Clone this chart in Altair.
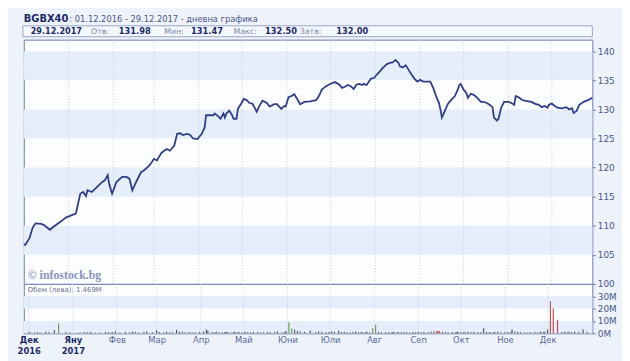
import altair as alt
import pandas as pd

# ---------------- data ----------------
dates = [
    "2016-12-01", "2016-12-02", "2016-12-05", "2016-12-07", "2016-12-09", "2016-12-13", "2016-12-15", "2016-12-19", "2016-12-22", "2016-12-27",
    "2016-12-30", "2017-01-04", "2017-01-06", "2017-01-09", "2017-01-11", "2017-01-13", "2017-01-14", "2017-01-17", "2017-01-20", "2017-01-24",
    "2017-01-26", "2017-01-28", "2017-01-29", "2017-01-31", "2017-02-03", "2017-02-07", "2017-02-10", "2017-02-12", "2017-02-14", "2017-02-16",
    "2017-02-20", "2017-02-22", "2017-02-26", "2017-03-01", "2017-03-03", "2017-03-06", "2017-03-08", "2017-03-10", "2017-03-12", "2017-03-15",
    "2017-03-17", "2017-03-19", "2017-03-21", "2017-03-24", "2017-03-26", "2017-03-28", "2017-03-31", "2017-04-03", "2017-04-05", "2017-04-06",
    "2017-04-09", "2017-04-11", "2017-04-12", "2017-04-14", "2017-04-16", "2017-04-18", "2017-04-19", "2017-04-20", "2017-04-22", "2017-04-24",
    "2017-04-25", "2017-04-27", "2017-04-28", "2017-04-30", "2017-05-02", "2017-05-04", "2017-05-06", "2017-05-08", "2017-05-11", "2017-05-13",
    "2017-05-15", "2017-05-18", "2017-05-20", "2017-05-23", "2017-05-25", "2017-05-28", "2017-05-30", "2017-05-31", "2017-06-02", "2017-06-04",
    "2017-06-06", "2017-06-08", "2017-06-10", "2017-06-13", "2017-06-17", "2017-06-21", "2017-06-23", "2017-06-25", "2017-06-28", "2017-06-30",
    "2017-07-02", "2017-07-04", "2017-07-07", "2017-07-09", "2017-07-11", "2017-07-13", "2017-07-15", "2017-07-17", "2017-07-19", "2017-07-21",
    "2017-07-23", "2017-07-24", "2017-07-26", "2017-07-27", "2017-07-29", "2017-07-31", "2017-08-02", "2017-08-04", "2017-08-06", "2017-08-09",
    "2017-08-11", "2017-08-13", "2017-08-14", "2017-08-15", "2017-08-17", "2017-08-18", "2017-08-20", "2017-08-22", "2017-08-24", "2017-08-26",
    "2017-08-28", "2017-08-30", "2017-09-01", "2017-09-03", "2017-09-05", "2017-09-08", "2017-09-10", "2017-09-12", "2017-09-14", "2017-09-15",
    "2017-09-16", "2017-09-18", "2017-09-20", "2017-09-22", "2017-09-25", "2017-09-27", "2017-09-28", "2017-09-29", "2017-10-01", "2017-10-03",
    "2017-10-04", "2017-10-06", "2017-10-08", "2017-10-10", "2017-10-13", "2017-10-15", "2017-10-17", "2017-10-19", "2017-10-21", "2017-10-22",
    "2017-10-24", "2017-10-25", "2017-10-27", "2017-10-29", "2017-11-01", "2017-11-03", "2017-11-05", "2017-11-06", "2017-11-08", "2017-11-10",
    "2017-11-12", "2017-11-15", "2017-11-17", "2017-11-19", "2017-11-22", "2017-11-24", "2017-11-26", "2017-11-28", "2017-11-29", "2017-12-01",
    "2017-12-03", "2017-12-05", "2017-12-08", "2017-12-11", "2017-12-13", "2017-12-15", "2017-12-16", "2017-12-18", "2017-12-20", "2017-12-23",
    "2017-12-26", "2017-12-29",
]
close = [
    106.8, 106.7, 107.9, 109.6, 110.4, 110.3, 110.1, 109.3, 109.9, 110.8,
    111.4, 111.9, 112.1, 115.5, 115.8, 115.1, 116.1, 115.8, 116.5, 117.5,
    117.8, 118.7, 117.2, 115.5, 117.5, 118.4, 118.4, 118.1, 116.1, 117.2,
    119.2, 119.5, 120.4, 121.5, 121.2, 122.5, 122.9, 123.2, 122.9, 123.8,
    125.8, 125.9, 125.6, 125.8, 125.6, 125.0, 124.9, 125.8, 126.9, 129.0,
    129.0, 129.0, 129.3, 128.9, 128.4, 129.3, 128.6, 129.3, 129.8, 129.0,
    128.4, 128.4, 130.1, 130.9, 131.8, 131.6, 131.1, 131.0, 129.6, 130.7,
    131.5, 131.1, 130.5, 130.9, 130.9, 130.1, 130.6, 130.5, 132.1, 132.3,
    132.6, 131.8, 130.9, 131.3, 131.4, 131.6, 132.3, 133.4, 134.0, 134.3,
    134.5, 134.7, 134.3, 133.7, 133.9, 134.2, 134.0, 133.5, 134.3, 134.4,
    134.2, 134.4, 134.2, 134.6, 135.3, 135.4, 136.0, 136.5, 137.1, 137.8,
    138.0, 138.1, 138.3, 138.5, 138.0, 137.4, 137.2, 137.6, 136.8, 136.0,
    135.3, 134.8, 135.1, 134.8, 134.8, 134.8, 133.7, 132.3, 131.1, 130.0,
    128.6, 129.7, 130.9, 131.5, 132.3, 133.4, 134.2, 134.4, 133.4, 132.8,
    132.0, 132.7, 132.5, 132.1, 131.3, 131.3, 131.1, 130.8, 130.4, 128.6,
    128.1, 128.3, 130.3, 131.3, 131.3, 131.1, 130.8, 132.3, 132.1, 131.7,
    131.5, 131.4, 131.3, 131.0, 130.8, 130.4, 130.6, 130.3, 130.8, 131.0,
    130.6, 130.3, 130.2, 130.4, 130.0, 130.2, 129.4, 129.7, 130.8, 131.3,
    131.6, 132.0,
]
# turnover in millions of leva
volume = [
    0.6, 0.8, 0.5, 1.0, 0.7, 1.2, 0.9, 2.5, 8.0, 1.0,
    0.6, 0.5, 0.7, 1.0, 0.8, 0.6, 0.9, 0.5, 0.7, 1.1,
    0.8, 0.6, 0.9, 1.5, 0.7, 1.2, 0.8, 1.4, 1.0, 0.6,
    1.1, 1.6, 0.8, 2.5, 1.0, 0.9, 1.3, 0.7, 0.8, 2.8,
    1.2, 1.2, 0.9, 1.0, 0.7, 0.8, 1.0, 1.4, 3.0, 2.0,
    1.0, 0.8, 1.2, 0.7, 0.9, 1.1, 0.8, 1.0, 0.7, 0.9,
    1.2, 0.8, 1.0, 0.7, 1.3, 0.9, 0.8, 1.1, 1.0, 0.7,
    0.9, 1.2, 0.8, 1.0, 1.5, 0.7, 1.0, 1.8, 9.0, 4.0,
    3.0, 2.0, 1.5, 1.2, 2.0, 1.0, 1.5, 1.2, 0.8, 1.0,
    1.6, 1.2, 2.0, 1.0, 1.3, 0.9, 0.7, 1.0, 1.4, 0.8,
    1.0, 0.7, 0.9, 1.2, 0.8, 4.0, 7.0, 1.2, 0.9, 1.0,
    0.8, 0.7, 1.0, 0.9, 0.7, 1.0, 0.8, 1.1, 0.9, 0.7,
    1.0, 0.8, 1.2, 0.9, 1.0, 0.8, 1.3, 1.5, 2.0, 1.8,
    1.6, 1.2, 1.0, 0.9, 1.1, 0.8, 1.0, 1.3, 0.9, 1.0,
    0.8, 1.2, 0.9, 1.0, 0.8, 0.9, 4.0, 1.2, 0.9, 0.7,
    1.0, 0.8, 1.2, 0.7, 0.9, 1.0, 0.8, 3.0, 1.5, 1.2,
    1.0, 0.8, 0.7, 0.9, 1.0, 0.8, 1.5, 1.0, 1.2, 3.0,
    26.0, 20.0, 11.0, 1.0, 1.5, 0.8, 1.2, 1.0, 1.5, 1.3,
    3.0, 1.0,
]
green_days = ["2016-12-22", "2017-06-02", "2017-06-04", "2017-07-31", "2017-08-02"]
red_days = ["2017-09-14", "2017-09-15", "2017-09-16", "2017-12-03", "2017-12-05", "2017-12-08"]

month_starts = ["2016-12-01", "2017-01-01", "2017-02-01", "2017-03-01", "2017-04-01", "2017-05-01",
                "2017-06-01", "2017-07-01", "2017-08-01", "2017-09-01", "2017-10-01", "2017-11-01",
                "2017-12-01"]
month_names = ["Яну", "Фев", "Мар", "Апр", "Май", "Юни", "Юли", "Авг", "Сеп", "Окт", "Ное", "Дек"]
price_ticks = [100, 105, 110, 115, 120, 125, 130, 135, 140]
price_bands_lo = [105, 115, 125, 135]
price_bands_hi = [110, 120, 130, 140]
vol_ticks = [0, 10, 20, 30]
vol_bands_lo = [0, 20]
vol_bands_hi = [10, 30]

symbol = "BGBX40"
period_text = ": 01.12.2016 - 29.12.2017 - дневна графика"
last_date = "29.12.2017"
stat_labels = ["Отв:", "Мин:", "Макс:", "Затв:"]
stat_values = ["131.98", "131.47", "132.50", "132.00"]
volume_note = "Обем (лева): 1.469M"
copyright_note = "© infostock.bg"

# ---------------- styling ----------------
W = 575
H_HEAD = 28
H_PRICE = 247
H_VOL = 50
PAGE_BG = "#edf2fb"
BAND = "#e6eefc"
PLOT_BG = "#fcfdff"
BORDER = "#6f7ca8"
LINE = "#2f3f86"
TXT = "#4a5888"
NAVY = "#1e2a66"
FONT = "DejaVu Sans"

df = pd.DataFrame({"date": dates, "close": close, "volume": volume})
df["kind"] = ["g" if d in green_days else ("r" if d in red_days else "n") for d in dates]
months_df = pd.DataFrame({"m": month_starts})
pb = pd.DataFrame({"lo": price_bands_lo, "hi": price_bands_hi})
vb = pd.DataFrame({"lo": vol_bands_lo, "hi": vol_bands_hi})
one = pd.DataFrame({"a": [0]})

xscale = alt.Scale(type="utc",
                   domain=[alt.DateTime(year=2016, month=12, date=1, utc=True),
                           alt.DateTime(year=2017, month=12, date=29, utc=True)])

# ---------------- header panel ----------------
def txt(s, x, y, size=8, weight="normal", color=TXT, font=FONT):
    return alt.Chart(one).mark_text(text=s, align="left", baseline="alphabetic", fontSize=size,
                                    fontWeight=weight, color=color, font=font).encode(
        x=alt.value(x), y=alt.value(y))

box = alt.Chart(one).mark_rect(fill="#f5f8fe", stroke="#9aa6c8", strokeWidth=1).encode(
    x=alt.value(-1), x2=alt.value(W), y=alt.value(14), y2=alt.value(25))

head_layers = [box,
               txt(symbol, 0, 10, size=10, weight="bold", color=NAVY),
               txt(period_text, 46, 10, size=8.4),
               txt(last_date, 7, 22.5, size=8.2, weight="bold", color=NAVY)]
stat_label_x = [68, 142, 212, 279]
stat_value_x = [96, 169, 244, 316]
for lab, val, lx, vx in zip(stat_labels, stat_values, stat_label_x, stat_value_x):
    head_layers.append(txt(lab, lx, 22.5, size=8, color="#7a86a8"))
    head_layers.append(txt(val, vx, 22.5, size=8.4, weight="bold", color=NAVY))

header = alt.layer(*head_layers).properties(
    width=W, height=H_HEAD, view=alt.ViewBackground(fill=PAGE_BG, strokeOpacity=0))

# ---------------- price panel ----------------
yscale = alt.Scale(domain=[100, 142], nice=False, zero=False)
yaxis = alt.Axis(orient="right", values=price_ticks, title=None, domain=False, grid=False,
                 tickSize=3, tickColor=BORDER, labelColor=TXT, labelFont=FONT, labelFontSize=9,
                 labelPadding=2)

bands = alt.Chart(pb).mark_rect(color=BAND).encode(
    y=alt.Y("lo:Q", scale=yscale, axis=yaxis), y2="hi:Q",
    x=alt.value(0), x2=alt.value(W))
grid = alt.Chart(months_df).mark_rule(color="#c4cce2", strokeDash=[1, 2], strokeWidth=1).encode(
    x=alt.X("m:T", scale=xscale, axis=None))
line = alt.Chart(df).mark_line(color=LINE, strokeWidth=1.8, interpolate="linear").encode(
    x=alt.X("date:T", scale=xscale, axis=None),
    y=alt.Y("close:Q", scale=yscale, axis=yaxis))
copy_txt = alt.Chart(one).mark_text(text=copyright_note, align="left", baseline="alphabetic",
                                    font="Liberation Serif", fontSize=12, fontWeight="bold",
                                    color="#8994b8").encode(x=alt.value(4), y=alt.value(242))

price = alt.layer(bands, grid, line, copy_txt).properties(
    width=W, height=H_PRICE,
    view=alt.ViewBackground(fill=PLOT_BG, stroke=BORDER, strokeWidth=1))

# ---------------- volume panel ----------------
vscale = alt.Scale(domain=[0, 40], nice=False, zero=True)
vaxis = alt.Axis(orient="right", values=vol_ticks, title=None, domain=False, grid=False,
                 tickSize=3, tickColor=BORDER, labelColor=TXT, labelFont=FONT, labelFontSize=9,
                 labelPadding=2, labelExpr="datum.value + 'M'")

names_js = "[" + ",".join("'" + n + "'" for n in month_names) + "]"
label_expr = ("utcyear(datum.value) == 2016 ? ['Дек', '2016'] : "
              "(utcmonth(datum.value) == 0 ? ['Яну', '2017'] : " + names_js + "[utcmonth(datum.value)])")
xaxis = alt.Axis(values=[alt.DateTime(year=int(m[:4]), month=int(m[5:7]), date=1, utc=True) for m in month_starts],
                 labelExpr=label_expr, title=None, grid=False, ticks=False, domain=False,
                 labelFont=FONT, labelFontSize=8.5, labelPadding=2, labelLineHeight=11,
                 labelBaseline="top", labelAlign="center", labelOverlap=False, labelFlush=False,
                 labelFontWeight={"condition": {"test": "datum.value < utc(2017, 0, 2)", "value": "bold"}, "value": "normal"},
                 labelColor={"condition": {"test": "datum.value < utc(2017, 0, 2)", "value": NAVY}, "value": "#5a6898"})

vbands = alt.Chart(vb).mark_rect(color=BAND).encode(
    y=alt.Y("lo:Q", scale=vscale, axis=vaxis), y2="hi:Q",
    x=alt.value(0), x2=alt.value(W))
vgrid = alt.Chart(months_df).mark_rule(color="#c4cce2", strokeDash=[1, 2], strokeWidth=1).encode(
    x=alt.X("m:T", scale=xscale, axis=xaxis))
bars = alt.Chart(df).mark_bar(size=1.2).encode(
    x=alt.X("date:T", scale=xscale, axis=xaxis),
    y=alt.Y("volume:Q", scale=vscale, axis=vaxis),
    color=alt.Color("kind:N", scale=alt.Scale(domain=["n", "g", "r"],
                                               range=["#4d5560", "#6f9a5a", "#c0504d"]), legend=None))
vol_txt = alt.Chart(one).mark_text(text=volume_note, align="left", baseline="middle", font=FONT,
                                   fontSize=7, color="#6a7090").encode(x=alt.value(4), y=alt.value(6))

vol = alt.layer(vbands, vgrid, bars, vol_txt).properties(
    width=W, height=H_VOL,
    view=alt.ViewBackground(fill=PLOT_BG, stroke=BORDER, strokeWidth=1))

chart = alt.vconcat(header, price, vol, spacing=0, bounds="flush").properties(
    background=PAGE_BG,
    padding={"left": 8, "top": 2, "right": 5, "bottom": 5},
).configure_view(stroke=BORDER)

chart.save("out.html", embed_options={"renderer": "svg", "actions": False})
